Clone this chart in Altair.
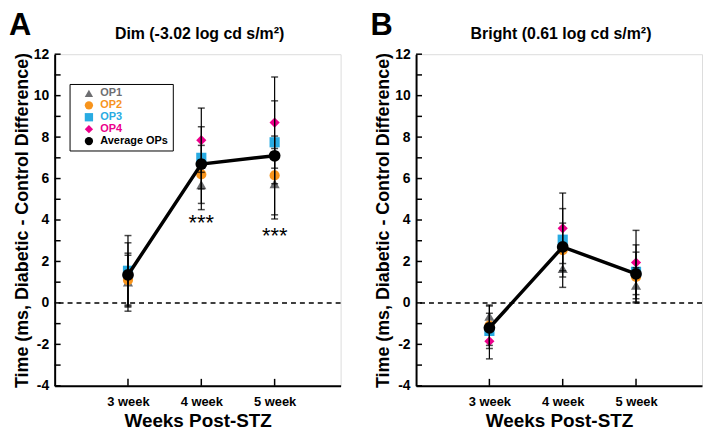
import altair as alt
import pandas as pd

FONT = "Liberation Sans"

weeks = ["3 week", "4 week", "5 week"]
week_num = [3, 4, 5]
series = ["OP1", "OP2", "OP3", "OP4"]
avg_name = "Average OPs"

# Panel A: Dim (-3.02 log cd s/m2)
dim_op1 = [1.0, 5.7, 5.75]
dim_op2 = [1.1, 6.2, 6.15]
dim_op3 = [1.55, 7.0, 7.75]
dim_op4 = [1.35, 7.85, 8.7]
dim_avg = [1.35, 6.7, 7.1]
dim_err1 = [1.4, 1.2, 1.7]
dim_err2 = [1.2, 1.4, 1.9]
dim_err3 = [1.7, 1.5, 2.0]
dim_err4 = [1.55, 1.55, 2.2]

# Panel B: Bright (0.61 log cd s/m2)
bri_op1 = [-0.65, 1.65, 0.85]
bri_op2 = [-1.1, 2.55, 1.25]
bri_op3 = [-1.35, 3.05, 1.5]
bri_op4 = [-1.85, 3.6, 1.95]
bri_avg = [-1.2, 2.7, 1.4]
bri_err1 = [0.55, 0.9, 0.85]
bri_err2 = [0.95, 1.3, 1.2]
bri_err3 = [0.85, 1.5, 1.3]
bri_err4 = [0.85, 1.7, 1.55]

# significance markers (panel A)
star_weeks = [4, 5]
star_y = [3.5, 2.9]

y_ticks = list(range(-4, 13))
x_domain = [2, 5.9]

colors = ["#6d6e71", "#f7941d", "#29abe2", "#ec008c", "#000000"]
shapes = ["triangle-up", "circle", "square", "diamond", "circle"]
domain_all = series + [avg_name]

W, H = 288, 334

label_color_expr = ""
for s, c in zip(series, colors[:4]):
    label_color_expr += f"datum.label == '{s}' ? '{c}' : "
label_color_expr += "'#000000'"

week_label_expr = ""
for n, w in zip(week_num, weeks):
    week_label_expr += f"datum.value == {n} ? '{w}' : "
week_label_expr += "''"


def xenc():
    return alt.X(
        "wk:Q",
        scale=alt.Scale(domain=x_domain, nice=False, zero=False),
        axis=alt.Axis(
            title="Weeks Post-STZ", values=week_num, labelExpr=week_label_expr,
            labelAngle=0, ticks=False, domainColor="black",
            domainWidth=2, labelFont=FONT, labelFontSize=13, labelFontWeight="bold",
            labelColor="black", labelPadding=10, labelOverlap=False, titleFont=FONT,
            titleFontSize=19, titleFontWeight="bold", titleColor="black", titlePadding=3,
            grid=False,
        ),
    )


def yenc(field):
    return alt.Y(
        f"{field}:Q",
        scale=alt.Scale(domain=[-4, 12], nice=False, zero=False),
        axis=alt.Axis(
            title="Time (ms, Diabetic - Control Difference)", values=y_ticks,
            labelExpr="datum.value % 2 == 0 ? '' + datum.value : ''", labelOverlap=False,
            ticks=False, domainColor="black", domainWidth=2, labelFont=FONT,
            labelFontSize=14, labelFontWeight="bold", labelColor="black", labelPadding=6,
            titleFont=FONT, titleFontSize=18, titleFontWeight="bold", titleColor="black",
            titlePadding=2, grid=False,
        ),
    )


def panel(title, ops, errs, avg, letter, show_legend, stars):
    rows = []
    for name, vals, es in zip(series, ops, errs):
        for w, v, e in zip(week_num, vals, es):
            rows.append(dict(wk=w, series=name, value=v, lo=v - e, hi=v + e))
    df = pd.DataFrame(rows)
    avg_df = pd.DataFrame(dict(wk=week_num, series=[avg_name] * 3, value=avg))

    if show_legend:
        legend = alt.Legend(
            orient="none", legendX=15, legendY=30, title=None, labelFont=FONT,
            labelFontSize=11, labelFontWeight="bold", labelColor={"expr": label_color_expr},
            symbolSize=70, symbolStrokeWidth=0, strokeColor="black", fillColor="white",
            padding=4, rowPadding=0, symbolOffset=10, labelOffset=6,
        )
    else:
        legend = None

    color = alt.Color("series:N", scale=alt.Scale(domain=domain_all, range=colors), legend=legend)
    shape = alt.Shape("series:N", scale=alt.Scale(domain=domain_all, range=shapes), legend=legend)

    zero = alt.Chart(pd.DataFrame({"z": [0]})).mark_rule(
        color="black", strokeDash=[5, 4], strokeWidth=1.5
    ).encode(y=yenc("z"))

    ytick_df = pd.DataFrame({"t": y_ticks})
    yticks = alt.Chart(ytick_df).mark_rule(color="black", strokeWidth=1.5).encode(
        y=yenc("t"), x=alt.value(0), x2=alt.value(6)
    )
    xtick_df = pd.DataFrame({"wk": week_num})
    xticks = alt.Chart(xtick_df).mark_rule(color="black", strokeWidth=1.5).encode(
        x=xenc(), y=alt.value(H), y2=alt.value(H - 7)
    )

    ops_pts = alt.Chart(df).mark_point(filled=True, size=105, opacity=1).encode(
        x=xenc(), y=yenc("value"), color=color, shape=shape,
        order=alt.Order("series:N"),
    )
    err_rule = alt.Chart(df).mark_rule(color="black", strokeWidth=1.2).encode(
        x=xenc(), y=yenc("lo"), y2="hi:Q"
    )
    cap_lo = alt.Chart(df).mark_tick(color="black", orient="horizontal", size=7, thickness=1.5).encode(
        x=xenc(), y=yenc("lo")
    )
    cap_hi = alt.Chart(df).mark_tick(color="black", orient="horizontal", size=7, thickness=1.5).encode(
        x=xenc(), y=yenc("hi")
    )
    avg_line = alt.Chart(avg_df).mark_line(color="black", strokeWidth=3.5).encode(
        x=xenc(), y=yenc("value")
    )
    avg_pts = alt.Chart(avg_df).mark_point(filled=True, size=140, opacity=1).encode(
        x=xenc(), y=yenc("value"), color=color, shape=shape
    )

    letter_mark = alt.Chart(pd.DataFrame({"l": [letter]})).mark_text(
        font=FONT, fontSize=31, fontWeight="bold", align="left", baseline="top", color="black"
    ).encode(text="l:N", x=alt.value(-46), y=alt.value(-43))

    title_mark = alt.Chart(pd.DataFrame({"t": [title]})).mark_text(
        font=FONT, fontSize=16, fontWeight="bold", align="center", baseline="alphabetic",
        color="black",
    ).encode(text="t:N", x=alt.value(W / 2 + 2), y=alt.value(-15))

    layers = [zero, yticks, xticks, ops_pts, err_rule, cap_lo, cap_hi, avg_line, avg_pts,
              letter_mark, title_mark]
    if stars:
        sdf = pd.DataFrame({"wk": star_weeks, "sy": star_y, "s": ["***"] * len(star_weeks)})
        layers.append(
            alt.Chart(sdf).mark_text(
                font=FONT, fontSize=22, align="center", baseline="alphabetic", color="black"
            ).encode(x=xenc(), y=yenc("sy"), text="s:N")
        )

    return alt.layer(*layers).properties(width=W, height=H)


panel_a = panel("Dim (-3.02 log cd s/m\u00b2)",
                [dim_op1, dim_op2, dim_op3, dim_op4],
                [dim_err1, dim_err2, dim_err3, dim_err4],
                dim_avg, "A", True, True)
panel_b = panel("Bright (0.61 log cd s/m\u00b2)",
                [bri_op1, bri_op2, bri_op3, bri_op4],
                [bri_err1, bri_err2, bri_err3, bri_err4],
                bri_avg, "B", False, False)

chart = alt.hconcat(panel_a, panel_b, spacing=76, bounds="flush").resolve_scale(
    color="independent", shape="independent"
).properties(
    padding={"left": 0, "top": 0, "right": 0, "bottom": 0}
).configure_view(stroke=None).configure(background="white")

chart.save("out.html", embed_options={"renderer": "svg", "actions": False})
